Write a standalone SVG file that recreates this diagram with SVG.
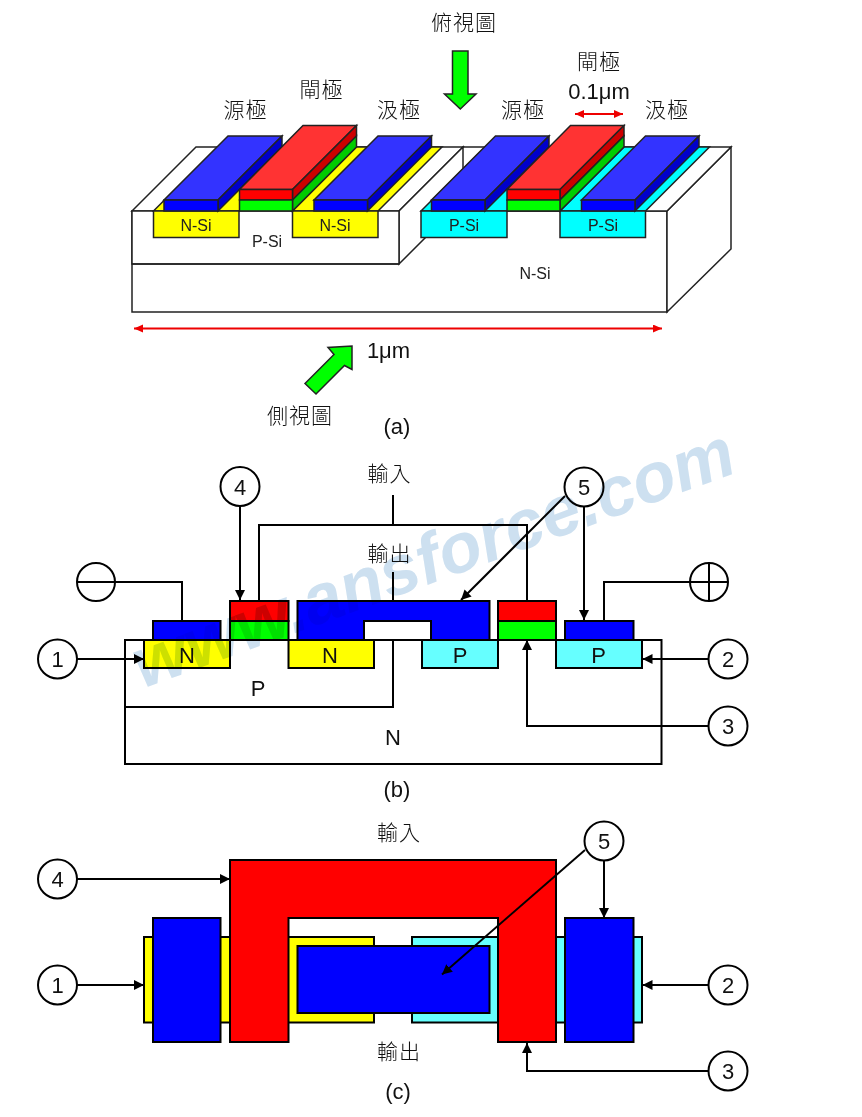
<svg xmlns="http://www.w3.org/2000/svg" width="862" height="1117" viewBox="0 0 862 1117">
<style>
text{font-family:"Liberation Sans","Noto Sans CJK TC",sans-serif;fill:#111;text-anchor:middle}
.c{font-size:21px;font-family:"Noto Sans CJK TC","Liberation Sans",sans-serif;font-weight:300;letter-spacing:1px;fill:#111}
.l{font-size:22px}
.s{font-size:16px;fill:#222}
.k{stroke:#222;stroke-width:1.5;stroke-linejoin:miter}
.w{fill:none;stroke:#000;stroke-width:2}
.b{stroke:#000;stroke-width:2}
.y{fill:#ff0}.cy{fill:#0ff}.cl{fill:#6ff}.bl{fill:#00f}.re{fill:#f00}.gr{fill:#0f0}
.bt{fill:#33f}.bs{fill:#00c}.rt{fill:#f33}.rs{fill:#c00}.gs{fill:#0c0}
.n{fill:#fff;stroke:#000;stroke-width:2}
.wm{font-size:70px;font-weight:bold;font-style:italic;fill:#cde0f0;mix-blend-mode:multiply;font-family:"Liberation Sans",sans-serif}
</style>
<defs>
<marker id="a" markerUnits="userSpaceOnUse" markerWidth="12" markerHeight="12" refX="10" refY="5" orient="auto"><path d="M0 0L10 5L0 10z" fill="#000"/></marker>
<marker id="r" markerUnits="userSpaceOnUse" markerWidth="12" markerHeight="12" refX="9" refY="4" orient="auto-start-reverse"><path d="M0 0L9 4L0 8z" fill="#e00"/></marker>
</defs>

<g id="panel-a">
<g id="body">
<path class="k" fill="#fff" d="M132 211H667V312H132z"/>
<path class="k" fill="#fff" d="M667 211L731 147V249L667 312z"/>
<path class="k" fill="#fff" d="M399 211L463 147H731L667 211z"/>
<path class="k" fill="#fff" d="M132 211L196 147H463L399 211z"/>
<path class="k" fill="#fff" d="M399 211L463 147V200L399 264z"/>
<path class="k" fill="#fff" stroke-width="0" d="M132 211H399V264H132z"/>
<path class="k" fill="none" d="M132 264H399"/>
</g>
<g id="well-n1"><path class="k y" d="M153.500 211L217.500 147H303L239 211z"/><path class="k y" d="M153.500 211H239V237.500H153.500z"/></g>
<g id="well-n2"><path class="k y" d="M292.500 211L356.500 147H442L378 211z"/><path class="k y" d="M292.500 211H378V237.500H292.500z"/></g>
<g id="well-p1"><path class="k cy" d="M421 211L485 147H571L507 211z"/><path class="k cy" d="M421 211H507V237.500H421z"/></g>
<g id="well-p2"><path class="k cy" d="M560 211L624 147H709.500L645.500 211z"/><path class="k cy" d="M560 211H645.500V237.500H560z"/></g>
<g id="metal-1"><path class="k bt" d="M164 200L228 136H282L218 200z"/><path class="k bs" d="M218 200L282 136V147L218 211z"/><path class="k bl" d="M164 200H218V211H164z"/></g>
<g id="gate-1"><path class="k rt" d="M239.500 189.500L303 125.500H356.500L292.500 189.500z"/><path class="k rs" d="M292.500 189.500L356.500 125.500V136L292.500 200z"/><path class="k gs" d="M292.500 200L356.500 136V147L292.500 211z"/><path class="k re" d="M239.500 189.500H292.500V200H239.500z"/><path class="k gr" d="M239.500 200H292.500V211H239.500z"/></g>
<g id="metal-2"><path class="k bt" d="M314 200L378 136H431.500L367.500 200z"/><path class="k bs" d="M367.500 200L431.500 136V147L367.500 211z"/><path class="k bl" d="M314 200H367.500V211H314z"/></g>
<g id="metal-3"><path class="k bt" d="M431.500 200L495.500 136H549L485 200z"/><path class="k bs" d="M485 200L549 136V147L485 211z"/><path class="k bl" d="M431.500 200H485V211H431.500z"/></g>
<g id="gate-2"><path class="k rt" d="M507 189.500L570.500 125.500H624L560 189.500z"/><path class="k rs" d="M560 189.500L624 125.500V136L560 200z"/><path class="k gs" d="M560 200L624 136V147L560 211z"/><path class="k re" d="M507 189.500H560V200H507z"/><path class="k gr" d="M507 200H560V211H507z"/></g>
<g id="metal-4"><path class="k bt" d="M581.500 200L645.500 136H699L635 200z"/><path class="k bs" d="M635 200L699 136V147L635 211z"/><path class="k bl" d="M581.500 200H635V211H581.500z"/></g>
<g id="arrow-top"><path class="k gr" stroke-width="2" d="M452.500 51H468V94H476L460.300 109L444.500 94H452.500z"/></g>
<g id="arrow-side"><path class="k gr" stroke-width="2" d="M305 383.500L334 354.500L328 347.500L352 346V369.500L344.500 365.500L316 394z"/></g>
<g id="dims" fill="none" stroke="#e00" stroke-width="2">
<path d="M134 328.500H662" marker-start="url(#r)" marker-end="url(#r)"/>
<path d="M575 114H623" marker-start="url(#r)" marker-end="url(#r)"/>
</g>
<g id="labels-a">
<text class="c" x="464" y="30">俯視圖</text>
<text class="c" x="321.500" y="97">閘極</text>
<text class="c" x="245.500" y="117">源極</text>
<text class="c" x="399" y="117">汲極</text>
<text class="c" x="523" y="117">源極</text>
<text class="c" x="599" y="69">閘極</text>
<text class="l" x="599" y="99">0.1μm</text>
<text class="c" x="667" y="117">汲極</text>
<text class="s" x="196" y="231">N-Si</text>
<text class="s" x="335" y="231">N-Si</text>
<text class="s" x="267" y="247">P-Si</text>
<text class="s" x="464" y="231">P-Si</text>
<text class="s" x="603" y="231">P-Si</text>
<text class="s" x="535" y="279">N-Si</text>
<text class="l" x="388.500" y="358">1μm</text>
<text class="c" x="300" y="423">側視圖</text>
<text class="l" x="397" y="434">(a)</text>
</g>
</g>

<g id="panel-b">
<g id="substrate-b"><path class="w" d="M125 640H661.500V764H125z"/><path class="w" d="M125 707H393V640"/></g>
<g id="n-left-b"><rect class="b y" x="144" y="640" width="86" height="28"/><rect class="b bl" x="153" y="621" width="67.500" height="19"/></g>
<g id="n-mid-b"><rect class="b y" x="288.500" y="640" width="85.500" height="28"/></g>
<g id="p-mid-b"><rect class="b cl" x="422" y="640" width="76" height="28"/></g>
<g id="p-right-b"><rect class="b cl" x="556" y="640" width="86" height="28"/><rect class="b bl" x="565" y="621" width="68.500" height="19"/></g>
<g id="gate-left-b"><rect class="b re" x="230" y="601" width="58.500" height="20"/><rect class="b gr" x="230" y="621" width="58.500" height="19"/></g>
<g id="gate-right-b"><rect class="b re" x="498" y="601" width="58" height="20"/><rect class="b gr" x="498" y="621" width="58" height="19"/></g>
<g id="metal-mid-b"><path class="b bl" d="M297.500 601H489.500V640H431V621H364V640H297.500z"/></g>
<g id="wires-b">
<path class="w" d="M393 495V525M259 601V525H527V601M393 572V601"/>
<path class="w" d="M115 582H182V621M709 582H604V621"/>
<path class="w" d="M240 506V600" marker-end="url(#a)"/>
<path class="w" d="M77 659H144" marker-end="url(#a)"/>
<path class="w" d="M565 496L461 600" marker-end="url(#a)"/>
<path class="w" d="M584 506.500V620" marker-end="url(#a)"/>
<path class="w" d="M708.500 659H642.500" marker-end="url(#a)"/>
<path class="w" d="M708.500 726H527V640" marker-end="url(#a)"/>
</g>
<g id="minus"><circle class="n" cx="96" cy="582" r="19"/><path class="w" d="M77 582H115"/></g>
<g id="plus"><circle class="n" cx="709" cy="582" r="19"/><path class="w" d="M690 582H728M709 563V601"/></g>
<g id="c4b"><circle class="n" cx="240" cy="486.500" r="19.500"/><text class="l" x="240" y="494.500">4</text></g>
<g id="c1b"><circle class="n" cx="57.500" cy="659" r="19.500"/><text class="l" x="57.500" y="667">1</text></g>
<g id="c5b"><circle class="n" cx="584" cy="487" r="19.500"/><text class="l" x="584" y="495">5</text></g>
<g id="c2b"><circle class="n" cx="728" cy="659" r="19.500"/><text class="l" x="728" y="667">2</text></g>
<g id="c3b"><circle class="n" cx="728" cy="726" r="19.500"/><text class="l" x="728" y="734">3</text></g>
<g id="labels-b">
<text class="c" x="389.500" y="481">輸入</text>
<text class="c" x="389.500" y="561">輸出</text>
<text class="l" x="187" y="663">N</text>
<text class="l" x="330" y="663">N</text>
<text class="l" x="460" y="663">P</text>
<text class="l" x="598.500" y="663">P</text>
<text class="l" x="258" y="696">P</text>
<text class="l" x="393" y="745">N</text>
<text class="l" x="397" y="797">(b)</text>
</g>
</g>

<g id="panel-c">
<g id="n-left-c"><rect class="b y" x="144" y="937" width="90" height="85.500"/></g>
<g id="n-mid-c"><rect class="b y" x="285" y="937" width="89" height="85.500"/></g>
<g id="p-mid-c"><rect class="b cl" x="412" y="937" width="90" height="85.500"/></g>
<g id="p-right-c"><rect class="b cl" x="552" y="937" width="90" height="85.500"/></g>
<g id="metal-left-c"><rect class="b bl" x="153" y="918" width="67.500" height="124"/></g>
<g id="metal-mid-c"><rect class="b bl" x="297.500" y="946" width="192" height="67"/></g>
<g id="metal-right-c"><rect class="b bl" x="565" y="918" width="68.500" height="124"/></g>
<g id="gate-c"><path class="b re" d="M230 860H556V1042H498V918H288.500V1042H230z"/></g>
<g id="wires-c">
<path class="w" d="M77 879H230" marker-end="url(#a)"/>
<path class="w" d="M77 985H144" marker-end="url(#a)"/>
<path class="w" d="M585 850L442 974.500" marker-end="url(#a)"/>
<path class="w" d="M604 861V918" marker-end="url(#a)"/>
<path class="w" d="M708.500 985H642.500" marker-end="url(#a)"/>
<path class="w" d="M708.500 1071H527V1043" marker-end="url(#a)"/>
</g>
<g id="c4c"><circle class="n" cx="57.500" cy="879" r="19.500"/><text class="l" x="57.500" y="887">4</text></g>
<g id="c1c"><circle class="n" cx="57.500" cy="985" r="19.500"/><text class="l" x="57.500" y="993">1</text></g>
<g id="c5c"><circle class="n" cx="604" cy="841" r="19.500"/><text class="l" x="604" y="849">5</text></g>
<g id="c2c"><circle class="n" cx="728" cy="985" r="19.500"/><text class="l" x="728" y="993">2</text></g>
<g id="c3c"><circle class="n" cx="728" cy="1071" r="19.500"/><text class="l" x="728" y="1079">3</text></g>
<g id="labels-c">
<text class="c" x="399" y="840">輸入</text>
<text class="c" x="399" y="1059">輸出</text>
<text class="l" x="398" y="1099">(c)</text>
</g>
</g>

<text class="wm" x="441" y="580" transform="rotate(-20 441 580)">www.ansforce.com</text>
</svg>
